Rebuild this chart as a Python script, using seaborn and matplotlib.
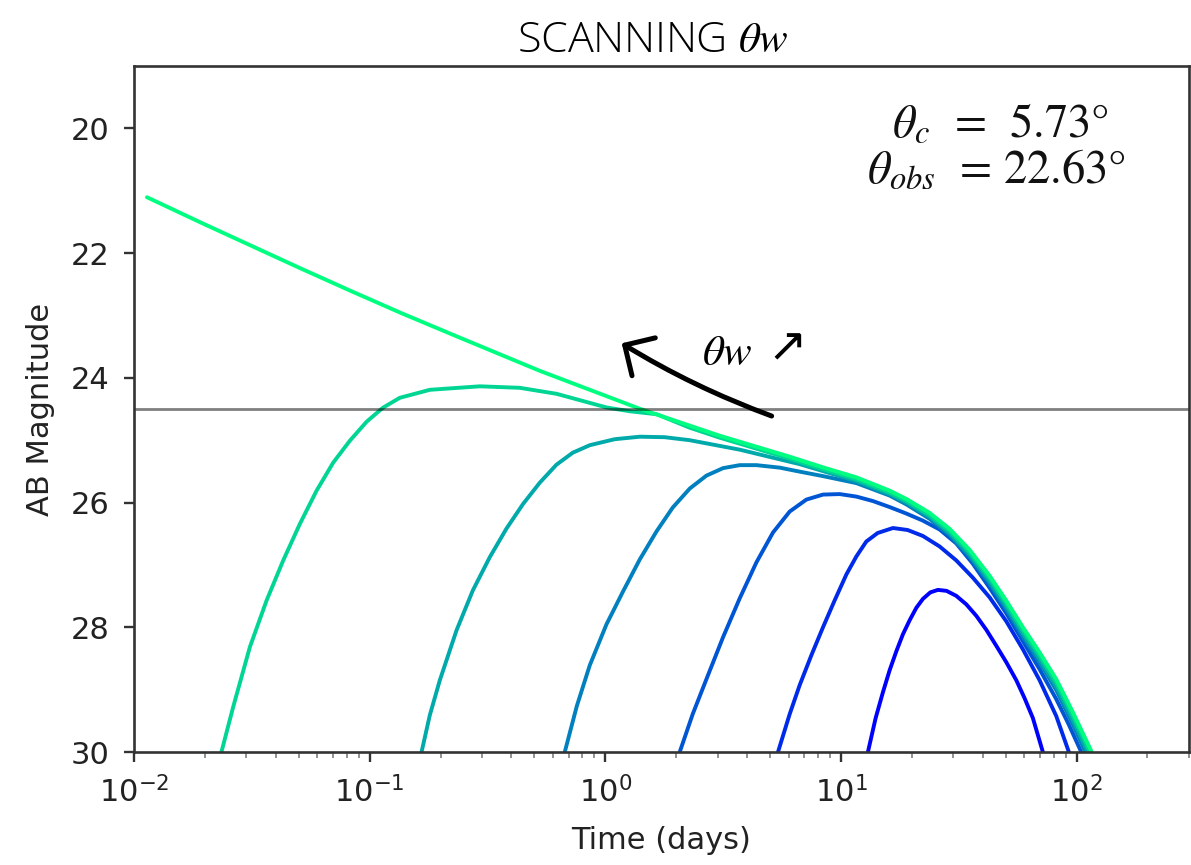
import matplotlib
matplotlib.use("Agg")
import matplotlib.pyplot as plt
import pandas as pd
import seaborn as sns

# Afterglow light curves for increasing wing angle (narrowest first)
t_w1 = [13.02, 14.04, 15.08, 16.10, 17.19, 18.33, 19.57, 20.89, 22.29, 23.96, 25.80, 28.09,
        30.88, 34.05, 37.55, 41.40, 45.64, 50.33, 55.49, 60.17, 65.27, 71.96]
m_w1 = [30.0, 29.456, 29.04, 28.688, 28.384, 28.112, 27.888, 27.688, 27.544, 27.44, 27.40, 27.416,
        27.496, 27.632, 27.816, 28.04, 28.296, 28.56, 28.848, 29.136, 29.456, 30.0]

t_w2 = [5.408, 6.062, 6.683, 7.493, 8.393, 9.408, 10.55, 11.63, 12.82, 14.32, 16.63, 19.20,
        22.29, 26.24, 30.88, 36.22, 42.76, 50.33, 59.18, 69.67, 82.02, 92.77]
m_w2 = [30.0, 29.392, 28.928, 28.448, 28.0, 27.568, 27.152, 26.864, 26.624, 26.488, 26.408, 26.44,
        26.536, 26.704, 26.928, 27.2, 27.52, 27.904, 28.352, 28.848, 29.424, 30.0]

t_w3 = [2.070, 2.350, 2.687, 3.160, 3.720, 4.378, 5.150, 6.062, 7.137, 8.393, 9.879, 11.63, 13.68,
        16.10, 18.95, 22.23, 26.24, 30.88, 36.22, 42.76, 50.33, 59.18, 69.67, 82.02, 92.50, 104.7]
m_w3 = [30.0, 29.392, 28.832, 28.16, 27.536, 26.96, 26.48, 26.144, 25.952, 25.872, 25.864, 25.904,
        25.976, 26.072, 26.176, 26.288, 26.432, 26.656, 26.976, 27.368, 27.776, 28.224, 28.672,
        29.152, 29.552, 30.0]

t_w4 = [0.6732, 0.7571, 0.8597, 1.012, 1.190, 1.401, 1.649, 1.933, 2.282, 2.687, 3.160, 3.720, 4.378,
        5.499, 6.683, 8.393, 11.63, 16.10, 18.95, 23.80, 28.93, 35.17, 42.76, 50.33, 59.18, 69.67,
        82.02, 96.45, 115.5]
m_w4 = [30.0, 29.264, 28.608, 27.952, 27.424, 26.912, 26.464, 26.08, 25.776, 25.568, 25.448, 25.40,
        25.40, 25.44, 25.504, 25.576, 25.688, 25.888, 26.029, 26.261, 26.525, 26.872, 27.301, 27.712,
        28.150, 28.563, 29.008, 29.56, 30.208]

t_w5 = [0.1661, 0.1801, 0.1986, 0.2338, 0.2742, 0.3236, 0.3810, 0.4481, 0.5276, 0.6209, 0.7282,
        0.8597, 1.097, 1.401, 1.788, 2.282, 3.720, 6.683, 8.393, 11.63, 16.10, 18.95, 23.80, 28.93,
        35.17, 42.76, 50.33, 59.18, 69.67, 82.02, 96.45, 115.5]
m_w5 = [30.0, 29.408, 28.848, 28.048, 27.408, 26.875, 26.416, 26.021, 25.68, 25.392, 25.2,
        25.08, 24.984, 24.944, 24.952, 25.0, 25.152, 25.384, 25.496, 25.656, 25.866, 25.997, 26.229,
        26.493, 26.837, 27.261, 27.669, 28.102, 28.512, 28.952, 29.491, 30.128]

t_w6 = [0.02350, 0.02637, 0.03104, 0.03655, 0.04298, 0.05059, 0.05957, 0.07004, 0.08245, 0.09707,
        0.1138, 0.1343, 0.1801, 0.2935, 0.4337, 0.6209, 1.012, 1.271, 1.654, 2.282, 3.060, 6.062,
        8.393, 11.63, 16.10, 18.95, 23.80, 28.93, 35.17, 42.76, 50.33, 59.18, 69.67, 82.02, 96.45,
        115.5]
m_w6 = [30.0, 29.275, 28.315, 27.568, 26.928, 26.341, 25.808, 25.36, 25.008, 24.704,
        24.48, 24.32, 24.192, 24.136, 24.16, 24.256, 24.475, 24.536, 24.584, 24.80, 24.96, 25.296,
        25.467, 25.627, 25.84, 25.973, 26.202, 26.461, 26.798, 27.216, 27.621, 28.050, 28.453,
        28.888, 29.419, 30.048]

t_w7 = [0.01135, 0.01905, 0.03104, 0.05059, 0.08245, 0.1343, 0.2345, 0.5276, 1.401, 3.060, 6.062,
        8.393, 11.63, 16.10, 18.95, 23.80, 28.93, 35.17, 42.76, 50.33, 59.18, 69.67, 82.02, 96.45,
        115.5]
m_w7 = [21.104, 21.504, 21.872, 22.24, 22.60, 22.952, 23.336, 23.888, 24.496, 24.928, 25.264,
        25.435, 25.595, 25.808, 25.941, 26.165, 26.421, 26.757, 27.173, 27.573, 27.998, 28.400,
        28.832, 29.360, 29.984]

curve_times = [t_w1, t_w2, t_w3, t_w4, t_w5, t_w6, t_w7]
curve_mags = [m_w1, m_w2, m_w3, m_w4, m_w5, m_w6, m_w7]

limit_mag = 24.5
y_ticks = [20, 22, 24, 26, 28, 30]

frames = []
for i, (t, m) in enumerate(zip(curve_times, curve_mags)):
    frames.append(pd.DataFrame({"time": t, "mag": m, "curve": i}))
df = pd.concat(frames, ignore_index=True)

n = len(curve_times)
winter = plt.get_cmap("winter")
palette = [winter(i / (n - 1)) for i in range(n)]

sns.set_style("ticks")
plt.rcParams["font.family"] = ["DejaVu Sans"]
plt.rcParams["axes.edgecolor"] = "#333333"

fig, ax = plt.subplots(figsize=(11.91, 8.65), dpi=100)
fig.subplots_adjust(left=0.1125, right=0.9983, bottom=0.1306, top=0.9237)

sns.lineplot(data=df, x="time", y="mag", hue="curve", palette=palette,
             estimator=None, sort=False, linewidth=2.8, legend=False, ax=ax)

ax.axhline(limit_mag, color="black", alpha=0.5, linewidth=2.0)

ax.set_xscale("log")
ax.set_xlim(0.01, 300)
ax.set_ylim(30, 19)
ax.set_yticks(y_ticks)

for s in ax.spines.values():
    s.set_linewidth(1.9)
    s.set_color("#333333")

ax.tick_params(which="major", length=7.5, width=1.7, color="#333333",
               labelsize=22, pad=10, labelcolor="#222222")
ax.tick_params(axis="x", which="minor", length=4.5, width=1.3, color="#888888")
ax.tick_params(axis="y", which="minor", length=0)

ax.set_xlabel("Time (days)", fontsize=22, color="#222222")
ax.set_ylabel("AB Magnitude", fontsize=22, color="#222222")
ax.xaxis.set_label_coords(0.5, -0.108)
ax.yaxis.set_label_coords(-0.075, 0.5)

# parameter box
ax.text(0.8209, 0.8965, r"$\theta_c$  =  5.73°", transform=ax.transAxes,
        ha="center", va="baseline", fontsize=33.5, fontfamily="STIXGeneral",
        math_fontfamily="stix", color="#111111")
ax.text(0.8175, 0.8294, r"$\theta_{obs}$  = 22.63°", transform=ax.transAxes,
        ha="center", va="baseline", fontsize=33.5, fontfamily="STIXGeneral",
        math_fontfamily="stix", color="#111111")

# direction of increasing wing angle
ax.annotate("", xy=(0.4623, 0.5958), xytext=(0.6044, 0.4898),
            xycoords="axes fraction", textcoords="axes fraction",
            arrowprops=dict(arrowstyle="->,head_length=0.8,head_width=0.8",
                            mutation_scale=20, lw=3.6, color="black",
                            connectionstyle="arc3,rad=-0.05",
                            shrinkA=0, shrinkB=0))
ax.text(0.5384, 0.5641, r"$\theta w$", transform=ax.transAxes, ha="left",
        va="baseline", fontsize=31, math_fontfamily="stix", color="black")
ax.text(0.6194, 0.5875, "↗", transform=ax.transAxes, ha="center", va="center",
        fontsize=34, color="black")

fig.text(0.548, 0.94, r"SCANNING $\theta w$", ha="center", va="baseline",
         fontsize=31, fontfamily="Open Sans", fontweight="light",
         math_fontfamily="stix", color="black")

fig.savefig("out.png", dpi=100, facecolor="white")
